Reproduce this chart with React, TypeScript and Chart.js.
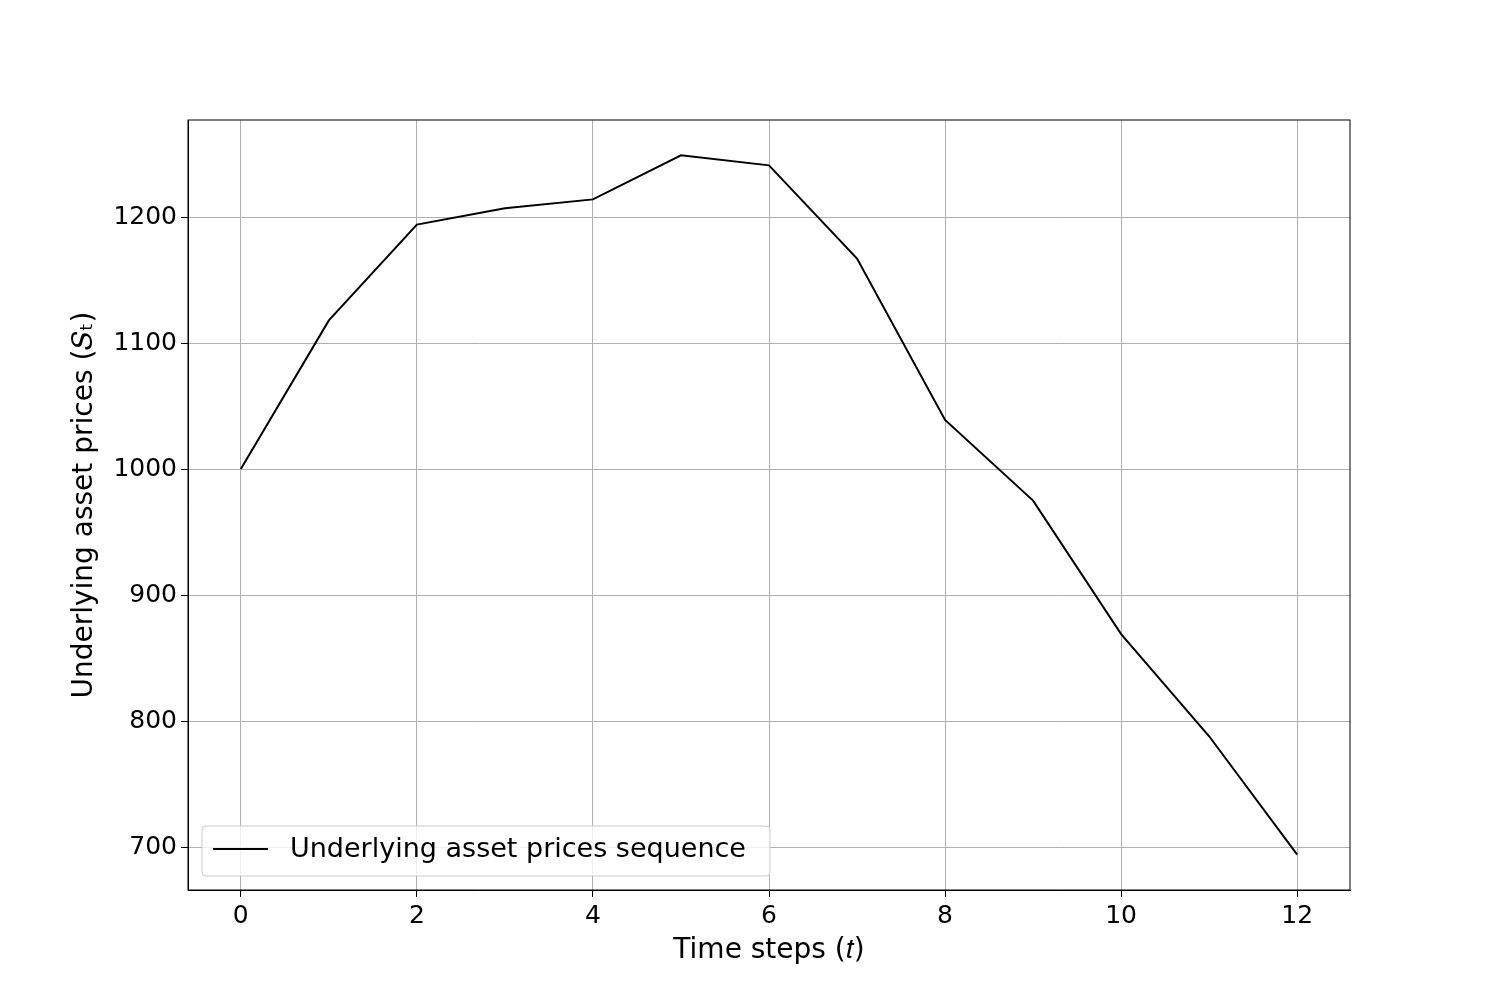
import React, { useRef, useEffect } from 'react';
import Chart from 'chart.js/auto';

const timeSteps = [0, 1, 2, 3, 4, 5, 6, 7, 8, 9, 10, 11, 12];
const prices = [1000, 1118, 1194, 1207, 1214, 1249, 1241, 1167, 1039, 975, 869, 788, 694];
const xTicks = [0, 2, 4, 6, 8, 10, 12];
const yTicks = [700, 800, 900, 1000, 1100, 1200];
const seriesLabel = 'Underlying asset prices sequence';

const FONT = 'DejaVu Sans, sans-serif';

const legendPlugin = {
  id: 'insideLegend',
  afterDraw(chart: any) {
    const { ctx, chartArea } = chart;
    const x = chartArea.left + 14;
    const y = chartArea.bottom - 64;
    const w = 568;
    const h = 50;
    ctx.save();
    ctx.fillStyle = 'rgba(255,255,255,0.8)';
    ctx.strokeStyle = '#cccccc';
    ctx.lineWidth = 1;
    ctx.beginPath();
    ctx.roundRect(x, y, w, h, 4);
    ctx.fill();
    ctx.stroke();
    ctx.strokeStyle = '#000';
    ctx.lineWidth = 2;
    ctx.beginPath();
    ctx.moveTo(x + 11, y + 23);
    ctx.lineTo(x + 66, y + 23);
    ctx.stroke();
    ctx.fillStyle = '#000';
    ctx.font = `27px ${FONT}`;
    ctx.textBaseline = 'middle';
    ctx.fillText(seriesLabel, x + 88, y + 24);
    ctx.restore();
  },
};

const App: React.FC = () => {
  const chartRef = useRef<HTMLCanvasElement | null>(null);

  useEffect(() => {
    if (!chartRef.current) return;
    const chart = new Chart(chartRef.current, {
      type: 'line',
      data: {
        datasets: [
          {
            label: seriesLabel,
            data: timeSteps.map((t, i) => ({ x: t, y: prices[i] })),
            borderColor: '#000',
            borderWidth: 2,
            pointRadius: 0,
            tension: 0,
          },
        ],
      },
      options: {
        animation: false,
        responsive: false,
        layout: { padding: { left: 68, top: 120, right: 150, bottom: 32 } },
        plugins: { legend: { display: false }, tooltip: { enabled: false } },
        scales: {
          x: {
            type: 'linear',
            min: -0.6,
            max: 12.6,
            afterBuildTicks: (s: any) => { s.ticks = xTicks.map(v => ({ value: v })); },
            afterFit: (s: any) => { s.height = 78; },
            grid: { color: '#b0b0b0', tickColor: '#000', tickLength: 7 },
            border: { color: '#000', width: 1 },
            ticks: { color: '#000', font: { family: FONT, size: 25 }, padding: 4, maxRotation: 0, callback: (v: any) => String(v) },
            title: { display: true, text: 'Time steps (𝑡)', color: '#000', font: { family: FONT, size: 28 }, padding: 0 },
          },
          y: {
            type: 'linear',
            min: 666,
            max: 1277,
            afterBuildTicks: (s: any) => { s.ticks = yTicks.map(v => ({ value: v })); },
            afterFit: (s: any) => { s.width = 120; },
            grid: { color: '#b0b0b0', tickColor: '#000', tickLength: 7 },
            border: { color: '#000', width: 1 },
            ticks: { color: '#000', font: { family: FONT, size: 25 }, padding: 4, callback: (v: any) => String(v) },
            title: { display: true, text: 'Underlying asset prices (𝑆ₜ)', color: '#000', font: { family: FONT, size: 28 }, padding: 0 },
          },
        },
      },
      plugins: [
        legendPlugin,
        {
          id: 'frame',
          afterDraw(c: any) {
            const { ctx, chartArea: a } = c;
            ctx.save();
            ctx.strokeStyle = '#000';
            ctx.lineWidth = 1;
            ctx.strokeRect(a.left, a.top, a.right - a.left, a.bottom - a.top);
            ctx.restore();
          },
        },
      ],
    });
    return () => chart.destroy();
  }, []);

  return (
    <div style={{ position: 'fixed', left: 0, top: 0, width: 1500, height: 1000, background: '#fff' }}>
      <canvas ref={chartRef} width={1500} height={1000} style={{ width: 1500, height: 1000 }} />
    </div>
  );
};

export default App;
